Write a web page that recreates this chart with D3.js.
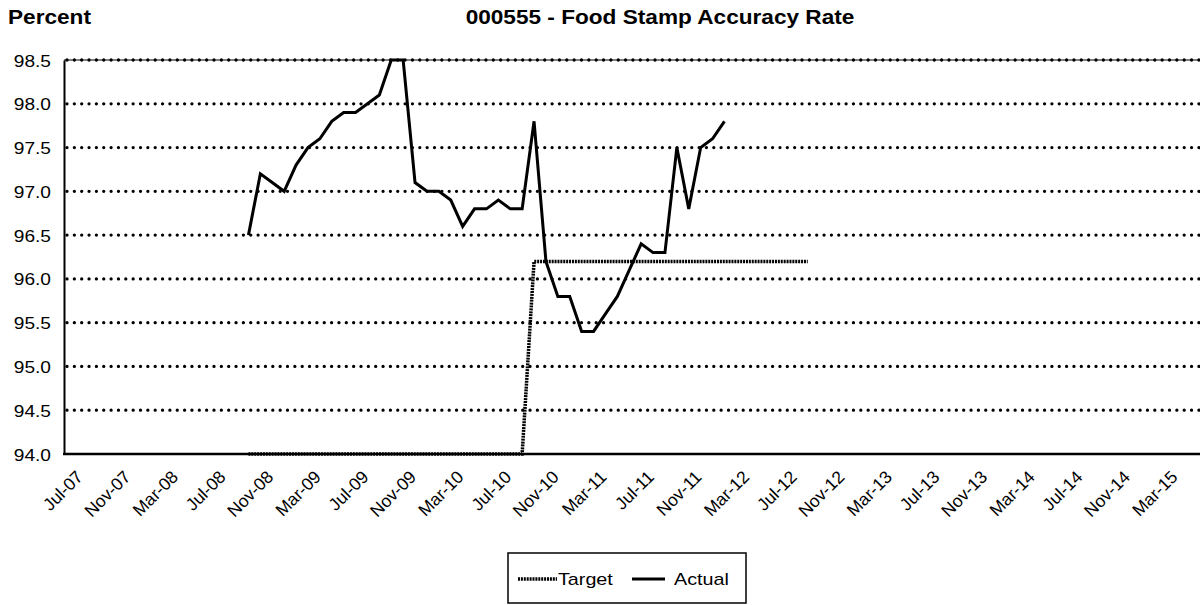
<!DOCTYPE html>
<html>
<head>
<meta charset="utf-8">
<script src="https://cdn.jsdelivr.net/npm/d3@7"></script>
<style>
  body { margin: 0; background: #fff; }
  svg { display: block; }
  text { font-family: "Liberation Sans", Arial, sans-serif; fill: #000; }
</style>
</head>
<body>
<svg id="chart" width="1200" height="605"></svg>
<script>
// Monthly categories, Jul-07 through Jun-15
const firstMonth = new Date(2007, 6, 1);
const lastMonth = new Date(2015, 5, 1);
const fmt = d3.timeFormat("%b-%y");
const months = d3.timeMonth.range(firstMonth, d3.timeMonth.offset(lastMonth, 1)).map(fmt);

// Axis tick labels (every fourth month)
const tickLabels = ["Jul-07","Nov-07","Mar-08","Jul-08","Nov-08","Mar-09","Jul-09","Nov-09",
  "Mar-10","Jul-10","Nov-10","Mar-11","Jul-11","Nov-11","Mar-12","Jul-12","Nov-12","Mar-13",
  "Jul-13","Nov-13","Mar-14","Jul-14","Nov-14","Mar-15"];
const yTicks = [94.0, 94.5, 95.0, 95.5, 96.0, 96.5, 97.0, 97.5, 98.0, 98.5];

// Actual accuracy rate, Oct-08 .. Feb-12
const actualMonths = ["Oct-08","Nov-08","Dec-08","Jan-09","Feb-09","Mar-09","Apr-09","May-09","Jun-09",
  "Jul-09","Aug-09","Sep-09","Oct-09","Nov-09","Dec-09","Jan-10","Feb-10","Mar-10","Apr-10","May-10",
  "Jun-10","Jul-10","Aug-10","Sep-10","Oct-10","Nov-10","Dec-10","Jan-11","Feb-11","Mar-11","Apr-11",
  "May-11","Jun-11","Jul-11","Aug-11","Sep-11","Oct-11","Nov-11","Dec-11","Jan-12","Feb-12"];
const actualValues = [96.5, 97.2, 97.1, 97.0, 97.3, 97.5, 97.6, 97.8, 97.9, 97.9, 98.0, 98.1, 98.5, 98.5,
  97.1, 97.0, 97.0, 96.9, 96.6, 96.8, 96.8, 96.9, 96.8, 96.8, 97.8, 96.2, 95.8, 95.8, 95.4, 95.4,
  95.6, 95.8, 96.1, 96.4, 96.3, 96.3, 97.5, 96.8, 97.5, 97.6, 97.8];

// Target rate, Oct-08 .. Sep-12
const targetMonths = ["Oct-08","Nov-08","Dec-08","Jan-09","Feb-09","Mar-09","Apr-09","May-09","Jun-09",
  "Jul-09","Aug-09","Sep-09","Oct-09","Nov-09","Dec-09","Jan-10","Feb-10","Mar-10","Apr-10","May-10",
  "Jun-10","Jul-10","Aug-10","Sep-10","Oct-10","Nov-10","Dec-10","Jan-11","Feb-11","Mar-11","Apr-11",
  "May-11","Jun-11","Jul-11","Aug-11","Sep-11","Oct-11","Nov-11","Dec-11","Jan-12","Feb-12","Mar-12",
  "Apr-12","May-12","Jun-12","Jul-12","Aug-12","Sep-12"];
const targetValues = [94.0, 94.0, 94.0, 94.0, 94.0, 94.0, 94.0, 94.0, 94.0, 94.0, 94.0, 94.0,
  94.0, 94.0, 94.0, 94.0, 94.0, 94.0, 94.0, 94.0, 94.0, 94.0, 94.0, 94.0,
  96.2, 96.2, 96.2, 96.2, 96.2, 96.2, 96.2, 96.2, 96.2, 96.2, 96.2, 96.2,
  96.2, 96.2, 96.2, 96.2, 96.2, 96.2, 96.2, 96.2, 96.2, 96.2, 96.2, 96.2];

const svg = d3.select("#chart");
const plot = { left: 64, top: 60, bottom: 454, step: 11.9 };
const stretch = 1.16;   // horizontal text is drawn slightly wide

const x = d3.scaleBand()
  .domain(months)
  .range([plot.left, plot.left + months.length * plot.step]);
const xc = m => x(m) + x.bandwidth() / 2;

const y = d3.scaleLinear()
  .domain([94.0, 98.5])
  .range([plot.bottom, plot.top]);

function wideText(parent, px, py, str, size, opts = {}) {
  return parent.append("text")
    .attr("transform", `translate(${px},${py}) scale(${stretch},1)`)
    .attr("font-size", size)
    .attr("font-weight", opts.bold ? "bold" : null)
    .attr("text-anchor", opts.anchor || "start")
    .text(str);
}

// Titles
wideText(svg, 8, 24, "Percent", 19.5, { bold: true });
wideText(svg, 660, 24, "000555 - Food Stamp Accuracy Rate", 19.5, { bold: true, anchor: "middle" });

// Dotted horizontal gridlines
svg.append("g").selectAll("line")
  .data(yTicks.filter(v => v > 94.0))
  .join("line")
  .attr("x1", plot.left + 3).attr("x2", 1200)
  .attr("y1", d => y(d)).attr("y2", d => y(d))
  .attr("stroke", "#000").attr("stroke-width", 3.3)
  .attr("stroke-linecap", "round").attr("stroke-dasharray", "0,7.35");

// Top border of the plot area
svg.append("line")
  .attr("x1", plot.left).attr("x2", 1200)
  .attr("y1", y(98.5)).attr("y2", y(98.5))
  .attr("stroke", "#000").attr("stroke-width", 1);

// Y axis
const yAxis = d3.axisLeft(y).tickValues(yTicks).tickFormat(d3.format(".1f")).tickSize(0).tickPadding(0);
const gy = svg.append("g").attr("transform", `translate(${plot.left},0)`).call(yAxis);
gy.select(".domain").attr("stroke", "#000").attr("stroke-width", 2);
gy.selectAll(".tick text")
  .attr("x", null).attr("dy", null)
  .attr("font-size", 16.5).attr("font-family", "'Liberation Sans', Arial, sans-serif")
  .attr("text-anchor", "end")
  .attr("transform", `translate(-13,6) scale(${stretch},1)`);

// X axis
const xAxis = d3.axisBottom(x).tickValues(tickLabels).tickSize(0).tickPadding(0);
const gx = svg.append("g").attr("transform", `translate(0,${plot.bottom})`).call(xAxis);
gx.select(".domain").remove();
gx.selectAll(".tick text")
  .attr("y", null).attr("dy", null)
  .attr("font-size", 17.5).attr("font-family", "'Liberation Sans', Arial, sans-serif")
  .attr("text-anchor", "end")
  .attr("transform", "translate(14,24) rotate(-45)");
svg.append("line")
  .attr("x1", plot.left - 1).attr("x2", 1200)
  .attr("y1", plot.bottom).attr("y2", plot.bottom)
  .attr("stroke", "#000").attr("stroke-width", 2.5);

const line = d3.line().x(d => xc(d[0])).y(d => y(d[1]));

// Target series (beaded dotted line)
svg.append("path")
  .datum(targetMonths.map((m, i) => [m, targetValues[i]]))
  .attr("d", line)
  .attr("fill", "none").attr("stroke", "#000").attr("stroke-width", 3.5)
  .attr("stroke-dasharray", "2,0.9");

// Actual series
svg.append("path")
  .datum(actualMonths.map((m, i) => [m, actualValues[i]]))
  .attr("d", line)
  .attr("fill", "none").attr("stroke", "#000").attr("stroke-width", 3)
  .attr("stroke-linejoin", "miter");

// Legend
const lg = svg.append("g");
lg.append("rect").attr("x", 508).attr("y", 553).attr("width", 238).attr("height", 50)
  .attr("fill", "#fff").attr("stroke", "#000").attr("stroke-width", 1.5);
lg.append("line").attr("x1", 518).attr("x2", 557).attr("y1", 579).attr("y2", 579)
  .attr("stroke", "#000").attr("stroke-width", 3.5)
  .attr("stroke-dasharray", "2,0.9");
wideText(lg, 558, 585, "Target", 17);
lg.append("line").attr("x1", 632).attr("x2", 665).attr("y1", 579).attr("y2", 579)
  .attr("stroke", "#000").attr("stroke-width", 3);
wideText(lg, 674, 585, "Actual", 17);
</script>
</body>
</html>
